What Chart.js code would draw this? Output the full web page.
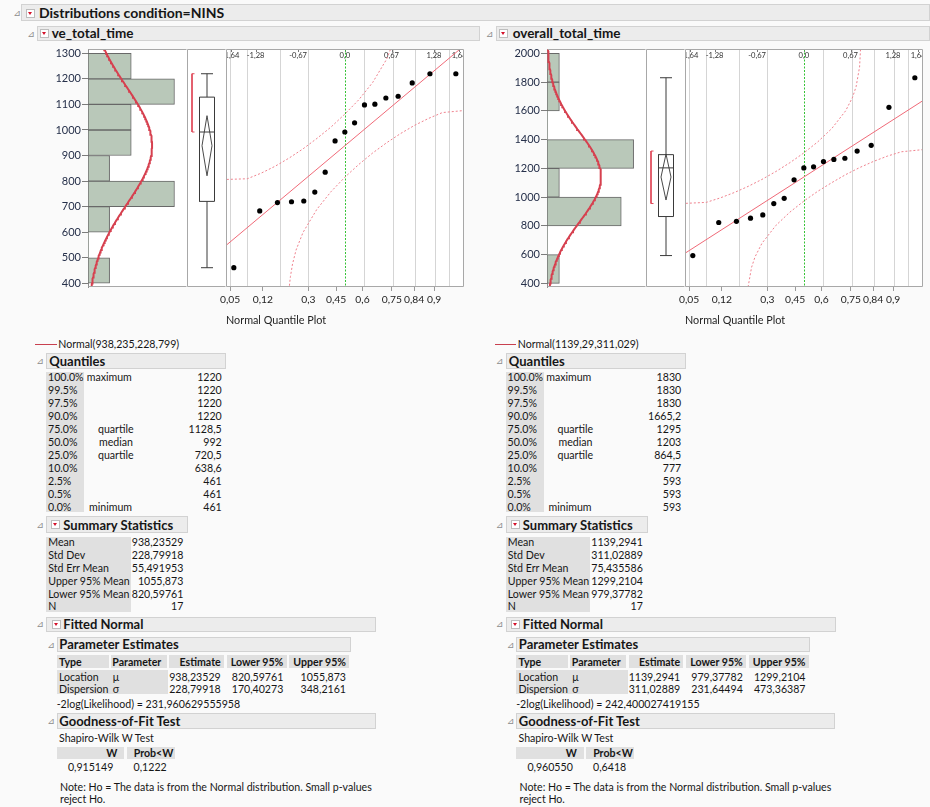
<!DOCTYPE html>
<html>
<head>
<meta charset="utf-8">
<title>Distributions condition=NINS</title>
<script src="https://cdn.jsdelivr.net/npm/chart.js"></script>
<style>
  html, body { margin:0; padding:0; }
  body { width:930px; height:807px; position:relative; overflow:hidden; background:#fafafa;
         font-family: Lato, "Noto Sans", "Liberation Sans", sans-serif; color:#161616; }
  .t { position:absolute; white-space:nowrap; height:14px; line-height:14px; font-size:10.6px; }
  .b { font-weight:bold; }
  .hbar { position:absolute; box-sizing:border-box; background:#ececec; border:1px solid #d2d2d2; }
  .cell { position:absolute; background:#e0e0e0; }
  .tri { position:absolute; font-family:"DejaVu Sans", sans-serif; font-size:9px; color:#8c8c8c; line-height:10px; height:10px; }
  .menu { position:absolute; box-sizing:border-box; width:9px; height:9px; border:1px solid #bdbdbd; background:#fff; }
  .menu::after { content:""; position:absolute; left:1px; top:2px; border-left:2.5px solid transparent; border-right:2.5px solid transparent; border-top:3.5px solid #d4112a; }
  .seg { position:absolute; height:1px; background:#c8404f; }
  .plot { position:absolute; }
</style>
</head>
<body>
<script>
// ---------- report labels ----------
const quantileLevels = ['100.0%','99.5%','97.5%','90.0%','75.0%','50.0%','25.0%','10.0%','2.5%','0.5%','0.0%'];
const quantileNames  = ['maximum','','','','quartile','median','quartile','','','','minimum'];
const summaryLabels  = ['Mean','Std Dev','Std Err Mean','Upper 95% Mean','Lower 95% Mean','N'];
const paramTypes     = ['Location','Dispersion'];
const paramSymbols   = ['μ','σ'];

// normal quantile plot axes
const topQuantileTicks = [-1.64, -1.28, -0.67, 0, 0.67, 1.28, 1.64];
const probTickLabels   = ['0,05','0,12','0,3','0,45','0,6','0,75','0,84','0,9'];
const probTickZ        = [-1.645, -1.175, -0.524, -0.126, 0.253, 0.674, 0.994, 1.282];
const probGridZ        = [-1.645, -1.40, -0.93, -0.53, 0.27, 0.69, 1.00, 1.30, 1.49];
const plotPositions    = [-1.593, -1.221, -0.967, -0.765, -0.589, -0.431, -0.282, -0.140, 0,
                           0.140, 0.282, 0.431, 0.589, 0.765, 0.967, 1.221, 1.593];

// ---------- ve_total_time ----------
const veValues      = [461, 683, 716, 719, 722, 757, 835, 957, 992, 1028, 1098, 1101, 1125, 1132, 1184, 1220, 1220];
const veBinStarts   = [400, 500, 600, 700, 800, 900, 1000, 1100, 1200];
const veBinCounts   = [1, 0, 1, 4, 1, 2, 2, 4, 2];
const veYTicks      = [400, 500, 600, 700, 800, 900, 1000, 1100, 1200, 1300];
const veQuantiles   = [1220, 1220, 1220, 1220, 1128.5, 992, 720.5, 638.6, 461, 461, 461];
const veSummary     = [938.23529, 228.79918, 55.491953, 1055.873, 820.59761, 17];
const veShortHalf   = [992, 1220];
const veEstimates   = [[938.23529, 820.59761, 1055.873], [228.79918, 170.40273, 348.2161]];
const veLogLik      = '231,960629555958';
const veShapiro     = [0.915149, 0.1222];
const veUpperBand   = [[-1.75,806],[-1.4,809],[-1.2,831],[-1.0,858],[-0.8,890],[-0.6,926],[-0.4,967],
                       [-0.2,1011],[0,1062],[0.2,1118],[0.4,1186],[0.6,1277],[0.7,1347]];
const veLowerBand   = [[-0.8,375],[-0.79,404],[-0.78,427],[-0.75,476],[-0.7,530],[-0.6,599],[-0.4,690],
                       [-0.2,758],[0,815],[0.2,865],[0.4,910],[0.6,950],[0.8,986],[1.0,1018],
                       [1.2,1045],[1.4,1068],[1.75,1077]];

// ---------- overall_total_time ----------
const ovValues      = [593, 823, 831, 853, 876, 955, 991, 1120, 1203, 1210, 1247, 1262, 1270, 1320, 1360, 1624, 1830];
const ovBinStarts   = [400, 600, 800, 1000, 1200, 1400, 1600, 1800];
const ovBinCounts   = [1, 0, 6, 1, 7, 0, 1, 1];
const ovYTicks      = [400, 600, 800, 1000, 1200, 1400, 1600, 1800, 2000];
const ovQuantiles   = [1830, 1830, 1830, 1665.2, 1295, 1203, 864.5, 777, 593, 593, 593];
const ovSummary     = [1139.2941, 311.02889, 75.435586, 1299.2104, 979.37782, 17];
const ovShortHalf   = [955, 1320];
const ovEstimates   = [[1139.2941, 979.37782, 1299.2104], [311.02889, 231.64494, 473.36387]];
const ovLogLik      = '242,400027419155';
const ovShapiro     = [0.960550, 0.6418];
const ovUpperBand   = [[-1.75,955],[-1.4,963],[-1.2,994],[-1.0,1031],[-0.8,1074],[-0.6,1123],[-0.4,1178],
                       [-0.2,1239],[0,1307],[0.2,1384],[0.4,1476],[0.6,1600],[0.7,1695],[0.75,1768],
                       [0.8,1905],[0.82,2091]];
const ovLowerBand   = [[-0.805,346],[-0.8,374],[-0.75,511],[-0.7,584],[-0.6,679],[-0.4,803],[-0.2,895],
                       [0,972],[0.2,1040],[0.4,1100],[0.6,1156],[0.8,1205],[1.0,1248],[1.2,1285],
                       [1.4,1315],[1.75,1332]];

const panels = [
  { name:'ve_total_time', values:veValues, binStarts:veBinStarts, binCounts:veBinCounts, binWidth:100,
    yTicks:veYTicks, quantiles:veQuantiles, summary:veSummary, shortHalf:veShortHalf,
    estimates:veEstimates, logLik:veLogLik, shapiro:veShapiro, upper:veUpperBand, lower:veLowerBand,
    yMin:385.5, yMax:1316.8, countMax:4.58, px:0, dx:0, hdx:0, titleX:51.7, barRight:479.5 },
  { name:'overall_total_time', values:ovValues, binStarts:ovBinStarts, binCounts:ovBinCounts, binWidth:200,
    yTicks:ovYTicks, quantiles:ovQuantiles, summary:ovSummary, shortHalf:ovShortHalf,
    estimates:ovEstimates, logLik:ovLogLik, shapiro:ovShapiro, upper:ovUpperBand, lower:ovLowerBand,
    yMin:374.3, yMax:2030, countMax:8.0, px:459, dx:459.5, hdx:458.5, titleX:512.7, barRight:930 }
];

// ---------- html helpers ----------
const dec = v => String(v).replace('.', ',');
function el(cls, css, txt) {
  const d = document.createElement('div');
  d.className = cls;
  Object.assign(d.style, css);
  if (txt !== undefined) d.textContent = txt;
  document.body.appendChild(d);
  return d;
}
function rect(cls, x1, y1, x2, y2) {
  return el(cls, { left:x1+'px', top:y1+'px', width:(x2-x1)+'px', height:(y2-y1)+'px' });
}
function text(x, cy, s, o = {}) {
  const css = { top:(cy - 7)+'px' };
  if (o.size) css.fontSize = o.size + 'px';
  if (o.right) { css.left = (x - 260)+'px'; css.width = '260px'; css.textAlign = 'right'; }
  else css.left = x + 'px';
  return el('t' + (o.bold ? ' b' : ''), css, s);
}
const tri  = (x, cy) => el('tri', { left:x+'px', top:(cy-5)+'px' }, '⊿');
const menu = (x, y) => el('menu', { left:x+'px', top:y+'px' });

// report title row
rect('hbar', 21, 4, 930, 21);
tri(13.5, 13);
menu(26, 8.5);
text(39, 12.6, 'Distributions condition=NINS', { bold:true, size:14 });

function reportText(p) {
  const h = p.hdx, d = p.dx;
  rect('hbar', 37+h, 26, p.barRight, 41);
  tri(27.5+h, 33.5);
  menu(40+h, 29);
  text(p.titleX, 33.2, p.name, { bold:true, size:13.5 });

  // fitted-curve legend
  rect('seg', 35+d, 344, 56.7+d, 345);
  text(58.3+d, 343.6, 'Normal(' + dec(p.summary[0].toPrecision(6)) + ',' + dec(p.summary[1].toPrecision(6)) + ')');

  // quantiles
  rect('hbar', 46+d, 353, 226+d, 368.5);
  tri(36.5+d, 361);
  text(49.3+d, 360.6, 'Quantiles', { bold:true, size:13 });
  rect('cell', 46+d, 371.7, 84+d, 511.7);
  const nameX = { maximum:86.7, quartile:98, median:99, minimum:89 };
  quantileLevels.forEach((lv, i) => {
    const cy = 377.3 + i * 12.93;
    text(48+d, cy, lv);
    if (quantileNames[i]) text(nameX[quantileNames[i]] + d, cy, quantileNames[i]);
    text(221.7+d, cy, dec(p.quantiles[i]), { right:true });
  });

  // summary statistics
  rect('hbar', 46+d, 516, 188.3+d, 533.3);
  tri(36.5+d, 524.6);
  menu(51+d, 520.3);
  text(63.3+d, 524.6, 'Summary Statistics', { bold:true, size:13 });
  rect('cell', 46+d, 536.7, 130.7+d, 611.7);
  summaryLabels.forEach((lb, i) => {
    const cy = 542.3 + i * 12.8;
    text(48.3+d, cy, lb);
    text(183.3+d, cy, dec(p.summary[i]), { right:true });
  });

  // fitted normal
  rect('hbar', 46+d, 616.7, 376+d, 631.7);
  tri(36.5+d, 624.2);
  menu(51.5+d, 619.8);
  text(63.3+d, 624, 'Fitted Normal', { bold:true, size:13 });
  rect('hbar', 56.7+d, 636.7, 350.7+d, 652.3);
  tri(47.5+d, 644.5);
  text(59.3+d, 644.3, 'Parameter Estimates', { bold:true, size:13 });
  [[56.7,109],[110.5,166.7],[169.3,224],[226.7,286.7],[289.3,349.3]]
    .forEach(c => rect('cell', c[0]+d, 655, c[1]+d, 668.3));
  text(59+d, 661.7, 'Type', { bold:true });
  text(112.3+d, 661.7, 'Parameter', { bold:true });
  const colR = [220.7, 283.3, 346];
  ['Estimate','Lower 95%','Upper 95%'].forEach((s, k) => text(colR[k]+d, 661.7, s, { bold:true, right:true }));
  rect('cell', 56.7+d, 670, 168.3+d, 694.3);
  paramTypes.forEach((tp, r) => {
    const cy = 676.7 + r * 12.3;
    text(59+d, cy, tp);
    text(112.7+d, cy, paramSymbols[r]);
    p.estimates[r].forEach((v, k) => text(colR[k]+d, cy, dec(v), { right:true }));
  });
  text(56.7+d, 704.3, '-2log(Likelihood) = ' + p.logLik);

  // goodness of fit
  rect('hbar', 56.7+d, 713.3, 376+d, 729.3);
  tri(47.5+d, 721.3);
  text(59.3+d, 721.2, 'Goodness-of-Fit Test', { bold:true, size:13 });
  text(59+d, 738.3, 'Shapiro-Wilk W Test');
  rect('cell', 56.7+d, 746.7, 124.3+d, 759);
  rect('cell', 126.7+d, 746.7, 175+d, 759);
  text(117.3+d, 752.9, 'W', { bold:true, right:true });
  text(173.3+d, 752.9, 'Prob<W', { bold:true, right:true });
  text(113.3+d, 767, dec(p.shapiro[0].toFixed(6)), { right:true });
  text(166.7+d, 767, dec(p.shapiro[1].toFixed(4)), { right:true });
  text(60+d, 786.7, 'Note: Ho = The data is from the Normal distribution. Small p-values');
  text(60+d, 799.3, 'reject Ho.');
}

// ---------- chart plugins ----------
const plotBg = {
  id: 'plotBg',
  beforeDraw(chart) {
    const { ctx, chartArea: a } = chart;
    ctx.save();
    ctx.fillStyle = '#ffffff';
    ctx.fillRect(a.left, a.top, a.right - a.left, a.bottom - a.top);
    ctx.restore();
  }
};
const frame = {
  id: 'frame',
  afterDraw(chart, args, o) {
    const { ctx, chartArea: a } = chart;
    const L = Math.round(a.left) + 0.5, R = Math.round(a.right) - 0.5;
    const T = Math.round(a.top) + 0.5, B = Math.round(a.bottom) - 0.5;
    ctx.save();
    ctx.strokeStyle = '#a8a8a8';
    ctx.lineWidth = 1;
    ctx.beginPath();
    ctx.moveTo(L, T); ctx.lineTo(R, T);
    ctx.moveTo(L, B); ctx.lineTo(R, B);
    if (o.left) { ctx.moveTo(L, T); ctx.lineTo(L, B); }
    if (o.right) { ctx.moveTo(R, T); ctx.lineTo(R, B); }
    ctx.stroke();
    ctx.restore();
  }
};
const quantileGrid = {
  id: 'quantileGrid',
  beforeDatasetsDraw(chart) {
    const { ctx, chartArea: a, scales: { x } } = chart;
    ctx.save();
    ctx.beginPath();
    ctx.rect(a.left, a.top, a.right - a.left, a.bottom - a.top);
    ctx.clip();
    ctx.lineWidth = 1;
    ctx.strokeStyle = '#d5d5d5';
    probGridZ.forEach(z => {
      const px = Math.round(x.getPixelForValue(z)) + 0.5;
      ctx.beginPath(); ctx.moveTo(px, a.top); ctx.lineTo(px, a.bottom); ctx.stroke();
    });
    // normal quantile labels along the top edge
    ctx.fillStyle = '#333';
    ctx.font = '7.6px Lato';
    ctx.textAlign = 'center';
    ctx.textBaseline = 'middle';
    ctx.strokeStyle = '#777';
    topQuantileTicks.forEach(z => {
      const px = x.getPixelForValue(z);
      ctx.fillText(z === 0 ? '0,0' : dec(z), px, a.top + 7);
      ctx.beginPath(); ctx.moveTo(Math.round(px) + 0.5, a.top); ctx.lineTo(Math.round(px) + 0.5, a.top + 3); ctx.stroke();
    });
    // reference line at the mean
    const p0 = Math.round(x.getPixelForValue(0)) + 0.5;
    ctx.strokeStyle = '#36c236';
    ctx.setLineDash([2, 1.5]);
    ctx.beginPath(); ctx.moveTo(p0, a.top); ctx.lineTo(p0, a.bottom); ctx.stroke();
    ctx.restore();
  }
};

function mkChart(left, top, w, h, config) {
  const wrap = document.createElement('div');
  wrap.className = 'plot';
  Object.assign(wrap.style, { left:left+'px', top:top+'px', width:w+'px', height:h+'px' });
  const cv = document.createElement('canvas');
  wrap.appendChild(cv);
  document.body.appendChild(wrap);
  config.options = Object.assign({ responsive:true, maintainAspectRatio:false, animation:false,
                                   devicePixelRatio:1, events:[] }, config.options);
  return new Chart(cv, config);
}

Chart.defaults.font.family = 'Lato, "Noto Sans", sans-serif';
Chart.defaults.color = '#222';

// histogram with fitted normal density
function histogram(p) {
  const [mu, sd] = p.summary, n = p.summary[5];
  const curve = [];
  for (let k = 0; k <= 200; k++) {
    const y = p.yMin + (p.yMax - p.yMin) * k / 200;
    const z = (y - mu) / sd;
    curve.push({ x: n * p.binWidth * Math.exp(-0.5 * z * z) / (sd * Math.sqrt(2 * Math.PI)), y });
  }
  mkChart(40 + p.px, 44, 148, 248, {
    type: 'bar',
    data: { datasets: [
      { type:'line', data:curve, borderColor:'#d6404f', borderWidth:2, pointRadius:0, tension:0, order:0 },
      { type:'bar', data:p.binCounts.map((c, i) => ({ x:c, y:p.binStarts[i] + p.binWidth / 2 })),
        backgroundColor:'#b9c8b9', borderColor:'#686868', borderSkipped:false,
        borderWidth: ctx => (ctx.raw && ctx.raw.x > 0 ? 1 : 0),
        barPercentage:1, categoryPercentage:1, order:1 }
    ]},
    options: {
      indexAxis: 'y',
      layout: { padding: { top:5, bottom:5, left:0, right:1 } },
      scales: {
        x: { type:'linear', min:0, max:p.countMax, display:false },
        y: { type:'linear', min:p.yMin, max:p.yMax, position:'left', offset:false,
             afterBuildTicks: s => { s.ticks = p.yTicks.map(v => ({ value:v })); },
             afterFit: s => { s.width = 48; s.paddingTop = 0; s.paddingBottom = 0; },
             grid: { drawOnChartArea:false, drawTicks:true, tickLength:6, tickColor:'#7c7c7c', offset:false },
             border: { display:true, color:'#8c8c8c' },
             ticks: { padding:1, autoSkip:false, font:{ size:11 }, color:'#26304a',
                      callback: v => String(v) } }
      },
      plugins: { legend:{ display:false }, tooltip:{ enabled:false }, frame:{} }
    },
    plugins: [plotBg, frame]
  });
}

// outlier box plot with mean diamond and shortest-half bracket
function boxPlot(p) {
  const q = p.quantiles, mean = p.summary[0], up = p.summary[3], lo = p.summary[4];
  const c = 20, hw = 7.5, cw = 6, dw = 5, bx = 5, bt = 2.5;
  const seg = (pts, color) => ({ data: pts.map(([x, y]) => ({ x, y })), showLine:true,
    borderColor: color || '#3a3a3a', borderWidth:1, pointRadius:0, tension:0, fill:false });
  mkChart(187 + p.px, 49, 39, 238, {
    type: 'scatter',
    data: { datasets: [
      seg([[c, q[10]], [c, q[6]]]),
      seg([[c, q[4]], [c, q[0]]]),
      seg([[c - cw, q[10]], [c + cw, q[10]]]),
      seg([[c - cw, q[0]], [c + cw, q[0]]]),
      seg([[c - hw, q[6]], [c + hw, q[6]], [c + hw, q[4]], [c - hw, q[4]], [c - hw, q[6]]]),
      seg([[c - hw, q[5]], [c + hw, q[5]]]),
      seg([[c, up], [c + dw, mean], [c, lo], [c - dw, mean], [c, up]], '#4a4a4a'),
      seg([[bx + bt, p.shortHalf[1]], [bx, p.shortHalf[1]], [bx, p.shortHalf[0]], [bx + bt, p.shortHalf[0]]], '#e04a5a')
    ]},
    options: {
      layout: { padding:0 },
      scales: {
        x: { type:'linear', min:0, max:39, display:false },
        y: { type:'linear', min:p.yMin, max:p.yMax, display:false }
      },
      plugins: { legend:{ display:false }, tooltip:{ enabled:false }, frame:{ left:true } }
    },
    plugins: [plotBg, frame]
  });
}

// normal quantile plot with fitted line and confidence bands
function quantilePlot(p) {
  const mu = p.summary[0], sd = p.summary[1];
  const zMin = -1.705, zMax = 1.71;
  const band = arr => ({ data: arr.map(([x, y]) => ({ x, y })), showLine:true, borderColor:'#f0828e',
    borderWidth:1, borderDash:[2, 2], pointRadius:0, tension:0, order:2 });
  mkChart(216 + p.px, 44, 254, 283, {
    type: 'scatter',
    data: { datasets: [
      { data: p.values.map((v, i) => ({ x: plotPositions[i], y: v })), pointRadius:2.6,
        pointBackgroundColor:'#000', pointBorderWidth:0, order:0 },
      { data: [zMin, zMax].map(z => ({ x:z, y: mu + sd * z })), showLine:true, borderColor:'#f06a78',
        borderWidth:1, pointRadius:0, order:1 },
      band(p.upper),
      band(p.lower)
    ]},
    options: {
      layout: { padding: { left:10, right:6, top:5, bottom:0 } },
      scales: {
        x: { type:'linear', min:zMin, max:zMax, position:'bottom',
             afterBuildTicks: s => { s.ticks = probTickZ.map(v => ({ value:v })); },
             afterFit: s => { s.height = 40; },
             ticks: { autoSkip:false, maxRotation:0, padding:2, font:{ size:10.3 }, color:'#222',
                      callback: (v, i) => probTickLabels[i] },
             grid: { drawOnChartArea:false, drawTicks:true, tickLength:4, tickColor:'#9a9a9a' },
             border: { display:false },
             title: { display:true, text:'Normal Quantile Plot', align:'start', padding:0,
                      font:{ size:10.8 }, color:'#222' } },
        y: { type:'linear', min:p.yMin, max:p.yMax, display:false }
      },
      plugins: { legend:{ display:false }, tooltip:{ enabled:false }, frame:{ left:true, right:true } }
    },
    plugins: [plotBg, quantileGrid, frame]
  });
}

panels.forEach(p => {
  reportText(p);
  histogram(p);
  boxPlot(p);
  quantilePlot(p);
});
</script>
</body>
</html>
